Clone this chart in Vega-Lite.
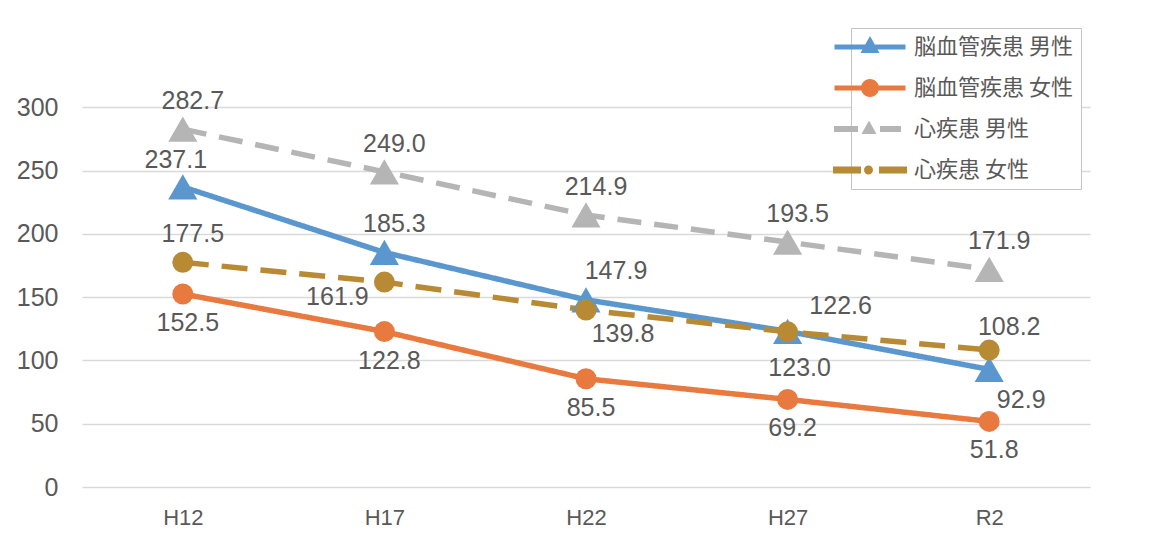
{
  "$schema": "https://vega.github.io/schema/vega-lite/v6.json",
  "width": 1008,
  "height": 443,
  "autosize": {"type": "none"},
  "padding": {"left": 82, "top": 44, "right": 62, "bottom": 52},
  "background": "white",
  "config": {"view": {"stroke": null}, "font": "Liberation Sans"},
  "data": {
    "values": [
      {"year": "H12", "series": "脳血管疾患 男性", "value": 237.1},
      {"year": "H17", "series": "脳血管疾患 男性", "value": 185.3},
      {"year": "H22", "series": "脳血管疾患 男性", "value": 147.9},
      {"year": "H27", "series": "脳血管疾患 男性", "value": 123.0},
      {"year": "R2", "series": "脳血管疾患 男性", "value": 92.9},
      {"year": "H12", "series": "脳血管疾患 女性", "value": 152.5},
      {"year": "H17", "series": "脳血管疾患 女性", "value": 122.8},
      {"year": "H22", "series": "脳血管疾患 女性", "value": 85.5},
      {"year": "H27", "series": "脳血管疾患 女性", "value": 69.2},
      {"year": "R2", "series": "脳血管疾患 女性", "value": 51.8},
      {"year": "H12", "series": "心疾患 男性", "value": 282.7},
      {"year": "H17", "series": "心疾患 男性", "value": 249.0},
      {"year": "H22", "series": "心疾患 男性", "value": 214.9},
      {"year": "H27", "series": "心疾患 男性", "value": 193.5},
      {"year": "R2", "series": "心疾患 男性", "value": 171.9},
      {"year": "H12", "series": "心疾患 女性", "value": 177.5},
      {"year": "H17", "series": "心疾患 女性", "value": 161.9},
      {"year": "H22", "series": "心疾患 女性", "value": 139.8},
      {"year": "H27", "series": "心疾患 女性", "value": 122.6},
      {"year": "R2", "series": "心疾患 女性", "value": 108.2}
    ]
  },
  "encoding": {
    "x": {
      "field": "year", "type": "ordinal",
      "sort": ["H12", "H17", "H22", "H27", "R2"],
      "scale": {"type": "point", "padding": 0.5},
      "axis": {"title": null, "labelAngle": 0, "labelFontSize": 22, "labelColor": "#595959", "labelPadding": 20, "domain": false, "ticks": false, "grid": false}
    },
    "y": {
      "field": "value", "type": "quantitative",
      "scale": {"domain": [0, 350], "nice": false},
      "axis": {"title": null, "values": [0, 50, 100, 150, 200, 250, 300], "labelFontSize": 25, "labelColor": "#595959", "labelPadding": 24, "domain": false, "ticks": false, "gridColor": "#d9d9d9", "gridWidth": 1.5}
    },
    "color": {
      "field": "series", "type": "nominal",
      "scale": {"domain": ["脳血管疾患 男性", "脳血管疾患 女性", "心疾患 男性", "心疾患 女性"], "range": ["#5b97cf", "#e8793f", "#b5b5b5", "#b88a33"]},
      "legend": null
    }
  },
  "layer": [
    {
      "mark": {"type": "point", "filled": true, "opacity": 1, "size": 0},
      "encoding": {
        "color": {
          "field": "series", "type": "nominal",
          "scale": {"domain": ["脳血管疾患 男性", "脳血管疾患 女性", "心疾患 男性", "心疾患 女性"], "range": ["#5b97cf", "#e8793f", "#b5b5b5", "#b88a33"]},
          "legend": {
            "title": null, "orient": "none", "legendX": 769, "legendY": -16,
            "padding": 8, "strokeColor": "#c4c4c4", "fillColor": "white",
            "symbolSize": 400, "symbolStrokeWidth": 0, "symbolOffset": 0,
            "labelOffset": 33, "labelFontSize": 22, "labelFont": "Noto Sans CJK JP", "labelColor": "#595959",
            "labelExpr": "datum.label + '\u2003\u2003'",
            "rowPadding": 19, "labelLimit": 400
          }
        },
        "shape": {
          "field": "series", "type": "nominal",
          "scale": {
            "domain": ["脳血管疾患 男性", "脳血管疾患 女性", "心疾患 男性", "心疾患 女性"],
            "range": [
              "M-3.55,-0.25H3.55V0.25H-3.55Z M0,-1.1L0.95,0.6H-0.95Z M-7.8,0L-7.79,0L-7.8,0.01Z",
              "M-3.55,-0.25H3.55V0.25H-3.55Z M-0.9,0A0.9,0.9 0 1,1 0.9,0A0.9,0.9 0 1,1 -0.9,0Z M-7.8,0L-7.79,0L-7.8,0.01Z",
              "M-3.6,-0.3H-1.2V0.3H-3.6Z M1.0,-0.3H3.1V0.3H1.0Z M-0.1,-0.85L0.65,0.5H-0.85Z M-7.8,0L-7.79,0L-7.8,0.01Z",
              "M-3.7,-0.35H-0.9V0.35H-3.7Z M0.9,-0.35H3.7V0.35H0.9Z M-0.6,0A0.45,0.45 0 1,1 0.3,0A0.45,0.45 0 1,1 -0.6,0Z M-7.8,0L-7.79,0L-7.8,0.01Z"
            ]
          }
        }
      }
    },
    {
      "mark": {"type": "line", "strokeWidth": 5.5, "strokeCap": "butt"},
      "encoding": {
        "strokeDash": {
          "field": "series", "type": "nominal",
          "scale": {"domain": ["脳血管疾患 男性", "脳血管疾患 女性", "心疾患 男性", "心疾患 女性"], "range": [[1, 0], [1, 0], [24, 13], [26, 13]]},
          "legend": null
        }
      }
    },
    {
      "transform": [{"filter": "indexof(datum.series, '男性') >= 0"}],
      "mark": {"type": "point", "shape": "triangle-up", "filled": true, "opacity": 1, "size": 850}
    },
    {
      "transform": [{"filter": "indexof(datum.series, '女性') >= 0"}],
      "mark": {"type": "point", "shape": "circle", "filled": true, "opacity": 1, "size": 440}
    },
    {
      "transform": [{"filter": "datum.series == '心疾患 男性' || (datum.series == '脳血管疾患 男性' && datum.year == 'H17') || (datum.series == '心疾患 女性' && datum.year == 'H12')"}],
      "mark": {"type": "text", "fontSize": 25, "baseline": "middle", "dx": 10, "dy": -28},
      "encoding": {"text": {"field": "value", "format": ".1f"}, "color": {"value": "#595959"}}
    },
    {
      "transform": [{"filter": "datum.series == '脳血管疾患 男性' && datum.year == 'H12'"}],
      "mark": {"type": "text", "fontSize": 25, "baseline": "middle", "dx": -7, "dy": -27},
      "encoding": {"text": {"field": "value", "format": ".1f"}, "color": {"value": "#595959"}}
    },
    {
      "transform": [{"filter": "datum.series == '脳血管疾患 女性'"}],
      "mark": {"type": "text", "fontSize": 25, "baseline": "middle", "dx": 5, "dy": 29},
      "encoding": {"text": {"field": "value", "format": ".1f"}, "color": {"value": "#595959"}}
    },
    {
      "transform": [{"filter": "datum.series == '脳血管疾患 男性' && datum.year == 'H27'"}],
      "mark": {"type": "text", "fontSize": 25, "baseline": "middle", "dx": 12, "dy": 37},
      "encoding": {"text": {"field": "value", "format": ".1f"}, "color": {"value": "#595959"}}
    },
    {
      "transform": [{"filter": "datum.series == '脳血管疾患 男性' && datum.year == 'H22'"}],
      "mark": {"type": "text", "fontSize": 25, "baseline": "middle", "dx": 30, "dy": -29},
      "encoding": {"text": {"field": "value", "format": ".1f"}, "color": {"value": "#595959"}}
    },
    {
      "transform": [{"filter": "datum.series == '脳血管疾患 男性' && datum.year == 'R2'"}],
      "mark": {"type": "text", "fontSize": 25, "baseline": "middle", "dx": 32, "dy": 31},
      "encoding": {"text": {"field": "value", "format": ".1f"}, "color": {"value": "#595959"}}
    },
    {
      "transform": [{"filter": "datum.series == '心疾患 女性' && datum.year == 'H17'"}],
      "mark": {"type": "text", "fontSize": 25, "baseline": "middle", "dx": -47, "dy": 15},
      "encoding": {"text": {"field": "value", "format": ".1f"}, "color": {"value": "#595959"}}
    },
    {
      "transform": [{"filter": "datum.series == '心疾患 女性' && datum.year == 'H22'"}],
      "mark": {"type": "text", "fontSize": 25, "baseline": "middle", "dx": 37, "dy": 24},
      "encoding": {"text": {"field": "value", "format": ".1f"}, "color": {"value": "#595959"}}
    },
    {
      "transform": [{"filter": "datum.series == '心疾患 女性' && datum.year == 'H27'"}],
      "mark": {"type": "text", "fontSize": 25, "baseline": "middle", "dx": 53, "dy": -26},
      "encoding": {"text": {"field": "value", "format": ".1f"}, "color": {"value": "#595959"}}
    },
    {
      "transform": [{"filter": "datum.series == '心疾患 女性' && datum.year == 'R2'"}],
      "mark": {"type": "text", "fontSize": 25, "baseline": "middle", "dx": 20, "dy": -23},
      "encoding": {"text": {"field": "value", "format": ".1f"}, "color": {"value": "#595959"}}
    }
  ]
}
